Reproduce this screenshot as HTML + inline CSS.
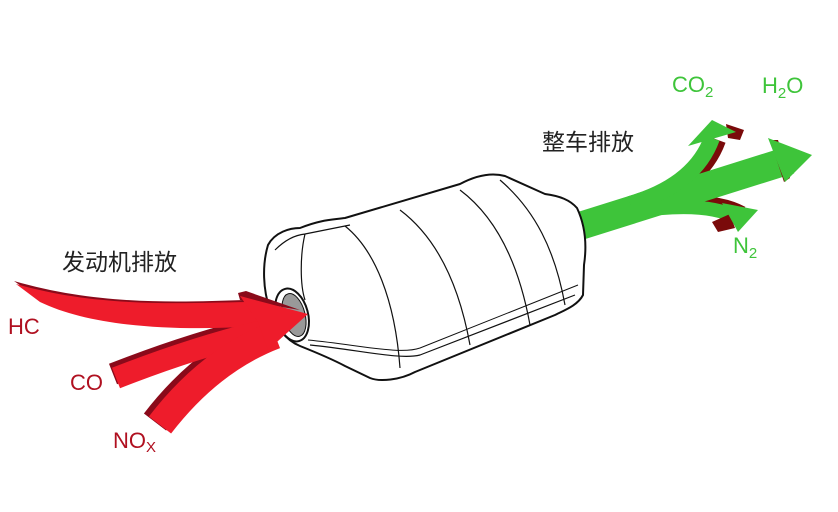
<!DOCTYPE html>
<html><head><meta charset="utf-8"><style>
html,body{margin:0;padding:0;background:#fff;}
svg{display:block}
text{font-family:"Liberation Sans","Noto Sans CJK SC",sans-serif;}
</style></head><body>
<svg width="838" height="512" viewBox="0 0 838 512" xmlns="http://www.w3.org/2000/svg">
<rect width="838" height="512" fill="#fff"/>
<!-- green arrows -->
<g fill="none" stroke-linecap="butt">
<path d="M630,204 Q695,185 712,138" stroke="#7a0a0a" stroke-width="16" transform="translate(6,2)"/>
<path d="M630,212 Q705,200 738,218" stroke="#7a0a0a" stroke-width="14" transform="translate(4,-5)"/>
<path d="M580,226 L790,160" stroke="#3ec43a" stroke-width="28"/>
<path d="M630,204 Q695,185 712,138" stroke="#3ec43a" stroke-width="16"/>
<path d="M630,212 Q705,200 738,218" stroke="#3ec43a" stroke-width="14"/>
</g>
<polygon points="770,140 778,140 790,178 784,182" fill="#7a0a0a"/>
<polygon points="768,138 812,155 785,182" fill="#3ec43a"/>
<polygon points="726,124 744,130 740,140 728,138" fill="#7a0a0a"/>
<polygon points="688,146 712,120 736,132" fill="#3ec43a"/>
<polygon points="712,222 730,214 735,228 718,232" fill="#7a0a0a"/>
<polygon points="722,203 758,210 738,232" fill="#3ec43a"/>
<!-- converter -->
<g fill="#fff" stroke="#111" stroke-width="2" stroke-linejoin="round">
<path d="M268,245 C275,232 290,228 300,228 C320,220 330,220 345,218 L460,184 C475,176 490,172 505,176 L545,194 C560,196 570,200 577,208 C585,225 587,245 584,265 L583,295 C578,305 565,310 555,315 L415,372 C400,380 380,382 370,378 L345,366 C330,358 315,352 300,346 C285,340 275,325 270,310 C263,290 262,265 268,245 Z"/>
<path d="M275,250 C285,240 295,235 305,234 L350,225 M305,234 C300,255 300,285 305,300" fill="none" stroke-width="1.2"/>
<path d="M345,226 C375,250 395,300 400,368" fill="none" stroke-width="1.2"/>
<path d="M400,210 C440,240 460,290 470,345" fill="none" stroke-width="1.2"/>
<path d="M460,190 C500,220 520,270 530,325" fill="none" stroke-width="1.2"/>
<path d="M500,180 C535,210 555,250 565,305" fill="none" stroke-width="1.2"/>
<path d="M310,345 C360,350 400,360 420,355 L575,295" fill="none" stroke-width="1.2"/>
<path d="M308,340 C360,345 400,355 420,348 L578,285" fill="none" stroke-width="1"/>
<ellipse cx="292" cy="315" rx="16" ry="27" transform="rotate(-15 292 315)"/>
<ellipse cx="294" cy="315" rx="11" ry="22" transform="rotate(-15 294 315)" fill="#999" stroke-width="1"/>
</g>
<!-- red arrows -->
<g fill="none">
<path d="M116,378 Q200,345 275,328" stroke="#8a0a1a" stroke-width="22" transform="translate(-3,-4)"/>
<path d="M160,425 Q210,360 275,335" stroke="#8a0a1a" stroke-width="28" transform="translate(-5,-3)"/>
</g>
<path d="M14,281 C100,306 180,302 245,300 L245,306 C180,312 100,318 38,298 Z" fill="#8a0a1a"/>
<path d="M16,284 C100,308 180,303 248,302 L262,326 C170,332 90,326 40,302 Z" fill="#ee1c2b"/>
<g fill="none">
<path d="M116,378 Q200,345 275,328" stroke="#ee1c2b" stroke-width="22"/>
<path d="M160,425 Q210,360 275,335" stroke="#ee1c2b" stroke-width="28"/>
</g>
<polygon points="238,293 246,291 300,310 240,300" fill="#8a0a1a"/>
<polygon points="240,296 308,314 268,350 258,322" fill="#ee1c2b"/>
<g font-size="23">
<text x="62" y="270" fill="#222">发动机排放</text>
<text x="542" y="150" fill="#222">整车排放</text>
</g>
<g font-size="22" fill="#b01020">
<text x="8" y="334">HC</text>
<text x="70" y="390">CO</text>
<text x="113" y="448">NO<tspan font-size="15" dy="4">X</tspan></text>
</g>
<g font-size="22" fill="#3ec43a">
<text x="672" y="92">CO<tspan font-size="15" dy="5">2</tspan></text>
<text x="762" y="93">H<tspan font-size="15" dy="5">2</tspan><tspan dy="-5">O</tspan></text>
<text x="733" y="253">N<tspan font-size="15" dy="5">2</tspan></text>
</g>
</svg>
</body></html>
